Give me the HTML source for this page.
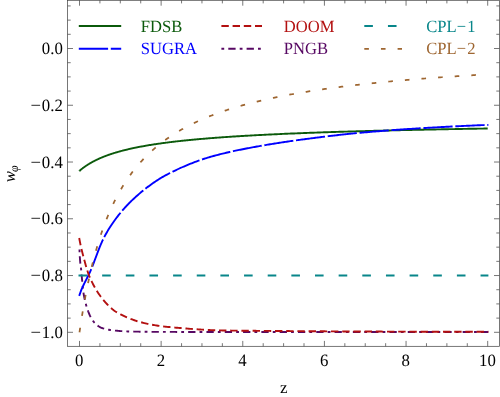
<!DOCTYPE html>
<html><head><meta charset="utf-8"><title>w_phi(z)</title>
<style>
html,body{margin:0;padding:0;background:#fff}
svg{display:block}
text{font-family:"Liberation Serif","Times New Roman",serif;font-size:16.8px;fill:#000;text-rendering:geometricPrecision}
.c{fill:none;stroke-width:1.9}
.f{stroke:#3c3c3c;stroke-width:0.7;fill:none}
</style></head><body>
<svg width="500" height="397" viewBox="0 0 500 397">
<rect width="500" height="397" fill="#fff"/>
<rect class="f" x="67.6" y="0.3" width="431.80" height="346.00"/>
<path class="f" d="M79.50,346.3 v-5.4 M79.50,0.3 v5.4 M99.91,346.3 v-3.1 M99.91,0.3 v3.1 M120.32,346.3 v-3.1 M120.32,0.3 v3.1 M140.73,346.3 v-3.1 M140.73,0.3 v3.1 M161.14,346.3 v-5.4 M161.14,0.3 v5.4 M181.55,346.3 v-3.1 M181.55,0.3 v3.1 M201.96,346.3 v-3.1 M201.96,0.3 v3.1 M222.37,346.3 v-3.1 M222.37,0.3 v3.1 M242.78,346.3 v-5.4 M242.78,0.3 v5.4 M263.19,346.3 v-3.1 M263.19,0.3 v3.1 M283.60,346.3 v-3.1 M283.60,0.3 v3.1 M304.01,346.3 v-3.1 M304.01,0.3 v3.1 M324.42,346.3 v-5.4 M324.42,0.3 v5.4 M344.83,346.3 v-3.1 M344.83,0.3 v3.1 M365.24,346.3 v-3.1 M365.24,0.3 v3.1 M385.65,346.3 v-3.1 M385.65,0.3 v3.1 M406.06,346.3 v-5.4 M406.06,0.3 v5.4 M426.47,346.3 v-3.1 M426.47,0.3 v3.1 M446.88,346.3 v-3.1 M446.88,0.3 v3.1 M467.29,346.3 v-3.1 M467.29,0.3 v3.1 M487.70,346.3 v-5.4 M487.70,0.3 v5.4 M67.6,332.30 h5.4 M499.4,332.30 h-5.4 M67.6,318.11 h3.1 M499.4,318.11 h-3.1 M67.6,303.92 h3.1 M499.4,303.92 h-3.1 M67.6,289.73 h3.1 M499.4,289.73 h-3.1 M67.6,275.54 h5.4 M499.4,275.54 h-5.4 M67.6,261.35 h3.1 M499.4,261.35 h-3.1 M67.6,247.16 h3.1 M499.4,247.16 h-3.1 M67.6,232.97 h3.1 M499.4,232.97 h-3.1 M67.6,218.78 h5.4 M499.4,218.78 h-5.4 M67.6,204.59 h3.1 M499.4,204.59 h-3.1 M67.6,190.40 h3.1 M499.4,190.40 h-3.1 M67.6,176.21 h3.1 M499.4,176.21 h-3.1 M67.6,162.02 h5.4 M499.4,162.02 h-5.4 M67.6,147.83 h3.1 M499.4,147.83 h-3.1 M67.6,133.64 h3.1 M499.4,133.64 h-3.1 M67.6,119.45 h3.1 M499.4,119.45 h-3.1 M67.6,105.26 h5.4 M499.4,105.26 h-5.4 M67.6,91.07 h3.1 M499.4,91.07 h-3.1 M67.6,76.88 h3.1 M499.4,76.88 h-3.1 M67.6,62.69 h3.1 M499.4,62.69 h-3.1 M67.6,48.50 h5.4 M499.4,48.50 h-5.4 M67.6,34.31 h3.1 M499.4,34.31 h-3.1 M67.6,20.12 h3.1 M499.4,20.12 h-3.1 M67.6,5.93 h3.1 M499.4,5.93 h-3.1"/>
<path class="c" stroke="#0b5a0b" d="M79.50,170.79 L79.50,170.79 L79.51,170.79 L79.51,170.78 L79.53,170.77 L79.54,170.76 L79.56,170.74 L79.58,170.72 L79.60,170.70 L79.63,170.68 L79.66,170.65 L79.70,170.62 L79.74,170.59 L79.78,170.56 L79.82,170.52 L79.87,170.48 L79.92,170.44 L79.97,170.39 L80.03,170.34 L80.09,170.29 L80.16,170.24 L80.22,170.18 L80.29,170.12 L80.37,170.06 L80.44,170.00 L80.52,169.93 L80.61,169.86 L80.70,169.79 L80.79,169.72 L80.88,169.64 L80.98,169.56 L81.08,169.48 L81.18,169.40 L81.29,169.31 L81.40,169.22 L81.51,169.13 L81.62,169.04 L81.74,168.95 L81.87,168.85 L81.99,168.75 L82.12,168.65 L82.26,168.55 L82.39,168.44 L82.53,168.34 L82.67,168.23 L82.82,168.12 L82.97,168.00 L83.12,167.89 L83.28,167.77 L83.44,167.66 L83.60,167.54 L83.76,167.42 L83.93,167.29 L84.10,167.17 L84.28,167.04 L84.46,166.91 L84.64,166.79 L84.83,166.66 L85.01,166.52 L85.21,166.39 L85.40,166.26 L85.60,166.12 L85.80,165.98 L86.01,165.84 L86.21,165.70 L86.43,165.56 L86.64,165.42 L86.86,165.28 L87.08,165.13 L87.30,164.99 L87.53,164.84 L87.76,164.70 L88.00,164.55 L88.24,164.40 L88.48,164.25 L88.72,164.10 L88.97,163.95 L89.22,163.80 L89.47,163.64 L89.73,163.49 L89.99,163.34 L90.26,163.18 L90.52,163.03 L90.79,162.87 L91.07,162.71 L91.34,162.56 L91.62,162.40 L91.91,162.24 L92.20,162.08 L92.49,161.93 L92.78,161.77 L93.08,161.61 L93.38,161.45 L93.68,161.29 L93.99,161.13 L94.30,160.97 L94.61,160.81 L94.92,160.65 L95.24,160.49 L95.57,160.32 L95.89,160.16 L96.22,160.00 L96.56,159.84 L96.89,159.68 L97.23,159.52 L97.57,159.36 L97.92,159.20 L98.27,159.03 L98.62,158.87 L98.98,158.71 L99.34,158.55 L99.70,158.39 L100.06,158.23 L100.43,158.07 L100.81,157.91 L101.18,157.75 L101.56,157.59 L101.94,157.43 L102.33,157.27 L102.71,157.11 L103.11,156.95 L103.50,156.79 L103.90,156.64 L104.30,156.48 L104.71,156.32 L105.11,156.16 L105.53,156.01 L105.94,155.85 L106.36,155.69 L106.78,155.54 L107.21,155.38 L107.63,155.23 L108.06,155.07 L108.50,154.92 L108.94,154.76 L109.38,154.61 L109.82,154.46 L110.27,154.31 L110.72,154.15 L111.17,154.00 L111.63,153.85 L112.09,153.70 L112.56,153.55 L113.02,153.40 L113.49,153.25 L113.97,153.11 L114.44,152.96 L114.92,152.81 L115.41,152.66 L115.90,152.52 L116.39,152.37 L116.88,152.23 L117.38,152.08 L117.88,151.94 L118.38,151.79 L118.89,151.65 L119.40,151.51 L119.91,151.37 L120.42,151.23 L120.94,151.09 L121.47,150.95 L121.99,150.81 L122.52,150.67 L123.06,150.53 L123.59,150.39 L124.13,150.26 L124.67,150.12 L125.22,149.98 L125.77,149.85 L126.32,149.71 L126.88,149.58 L127.44,149.45 L128.00,149.31 L128.56,149.18 L129.13,149.05 L129.71,148.92 L130.28,148.79 L130.86,148.66 L131.44,148.53 L132.03,148.40 L132.61,148.28 L133.21,148.15 L133.80,148.02 L134.40,147.90 L135.00,147.77 L135.61,147.65 L136.21,147.52 L136.83,147.40 L137.44,147.28 L138.06,147.16 L138.68,147.03 L139.31,146.91 L139.93,146.79 L140.56,146.67 L141.20,146.55 L141.84,146.44 L142.48,146.32 L143.12,146.20 L143.77,146.08 L144.42,145.97 L145.07,145.85 L145.73,145.74 L146.39,145.62 L147.06,145.51 L147.72,145.40 L148.39,145.29 L149.07,145.17 L149.74,145.06 L150.42,144.95 L151.11,144.84 L151.80,144.73 L152.49,144.62 L153.18,144.52 L153.88,144.41 L154.58,144.30 L155.28,144.19 L155.99,144.09 L156.70,143.98 L157.41,143.88 L158.12,143.77 L158.84,143.67 L159.57,143.57 L160.29,143.46 L161.02,143.36 L161.76,143.26 L162.49,143.16 L163.23,143.06 L163.97,142.96 L164.72,142.86 L165.47,142.76 L166.22,142.66 L166.98,142.57 L167.74,142.47 L168.50,142.37 L169.26,142.28 L170.03,142.18 L170.81,142.09 L171.58,141.99 L172.36,141.90 L173.14,141.80 L173.93,141.71 L174.72,141.62 L175.51,141.53 L176.30,141.43 L177.10,141.34 L177.90,141.25 L178.71,141.16 L179.52,141.07 L180.33,140.98 L181.14,140.90 L181.96,140.81 L182.78,140.72 L183.61,140.63 L184.43,140.55 L185.26,140.46 L186.10,140.38 L186.94,140.29 L187.78,140.21 L188.62,140.12 L189.47,140.04 L190.32,139.95 L191.17,139.87 L192.03,139.79 L192.89,139.71 L193.76,139.63 L194.62,139.54 L195.49,139.46 L196.37,139.38 L197.24,139.30 L198.13,139.22 L199.01,139.15 L199.90,139.07 L200.79,138.99 L201.68,138.91 L202.58,138.83 L203.48,138.76 L204.38,138.68 L205.29,138.61 L206.20,138.53 L207.11,138.46 L208.03,138.38 L208.94,138.31 L209.87,138.23 L210.79,138.16 L211.72,138.09 L212.66,138.01 L213.59,137.94 L214.53,137.87 L215.47,137.80 L216.42,137.73 L217.37,137.66 L218.32,137.59 L219.28,137.52 L220.24,137.45 L221.20,137.38 L222.16,137.31 L223.13,137.24 L224.11,137.17 L225.08,137.10 L226.06,137.04 L227.04,136.97 L228.03,136.90 L229.02,136.84 L230.01,136.77 L231.00,136.70 L232.00,136.64 L233.00,136.57 L234.01,136.51 L235.02,136.44 L236.03,136.38 L237.04,136.32 L238.06,136.25 L239.08,136.19 L240.11,136.13 L241.13,136.07 L242.16,136.00 L243.20,135.94 L244.24,135.88 L245.28,135.82 L246.32,135.76 L247.37,135.70 L248.42,135.64 L249.47,135.58 L250.53,135.52 L251.59,135.46 L252.66,135.40 L253.72,135.34 L254.79,135.29 L255.87,135.23 L256.94,135.17 L258.03,135.11 L259.11,135.06 L260.20,135.00 L261.29,134.94 L262.38,134.89 L263.48,134.83 L264.58,134.78 L265.68,134.72 L266.79,134.67 L267.90,134.61 L269.01,134.56 L270.13,134.50 L271.25,134.45 L272.37,134.39 L273.49,134.34 L274.62,134.29 L275.76,134.24 L276.89,134.18 L278.03,134.13 L279.17,134.08 L280.32,134.03 L281.47,133.98 L282.62,133.92 L283.78,133.87 L284.94,133.82 L286.10,133.77 L287.26,133.72 L288.43,133.67 L289.61,133.62 L290.78,133.57 L291.96,133.52 L293.14,133.47 L294.33,133.43 L295.52,133.38 L296.71,133.33 L297.90,133.28 L299.10,133.23 L300.30,133.19 L301.51,133.14 L302.72,133.09 L303.93,133.04 L305.14,133.00 L306.36,132.95 L307.58,132.91 L308.81,132.86 L310.03,132.81 L311.26,132.77 L312.50,132.72 L313.74,132.68 L314.98,132.63 L316.22,132.59 L317.47,132.54 L318.72,132.50 L319.97,132.46 L321.23,132.41 L322.49,132.37 L323.76,132.32 L325.02,132.28 L326.29,132.24 L327.57,132.20 L328.85,132.15 L330.13,132.11 L331.41,132.07 L332.70,132.03 L333.99,131.99 L335.28,131.94 L336.58,131.90 L337.88,131.86 L339.18,131.82 L340.49,131.78 L341.80,131.74 L343.11,131.70 L344.43,131.66 L345.75,131.62 L347.07,131.58 L348.39,131.54 L349.72,131.50 L351.06,131.46 L352.39,131.42 L353.73,131.38 L355.07,131.34 L356.42,131.30 L357.77,131.27 L359.12,131.23 L360.48,131.19 L361.84,131.15 L363.20,131.11 L364.57,131.08 L365.93,131.04 L367.31,131.00 L368.68,130.97 L370.06,130.93 L371.44,130.89 L372.83,130.86 L374.22,130.82 L375.61,130.78 L377.00,130.75 L378.40,130.71 L379.80,130.68 L381.21,130.64 L382.62,130.60 L384.03,130.57 L385.44,130.53 L386.86,130.50 L388.28,130.46 L389.71,130.43 L391.13,130.40 L392.57,130.36 L394.00,130.33 L395.44,130.29 L396.88,130.26 L398.32,130.23 L399.77,130.19 L401.22,130.16 L402.68,130.13 L404.13,130.09 L405.59,130.06 L407.06,130.03 L408.52,129.99 L409.99,129.96 L411.47,129.93 L412.95,129.90 L414.43,129.87 L415.91,129.83 L417.40,129.80 L418.89,129.77 L420.38,129.74 L421.88,129.71 L423.38,129.68 L424.88,129.64 L426.39,129.61 L427.90,129.58 L429.41,129.55 L430.93,129.52 L432.45,129.49 L433.97,129.46 L435.49,129.43 L437.02,129.40 L438.56,129.37 L440.09,129.34 L441.63,129.31 L443.18,129.28 L444.72,129.25 L446.27,129.22 L447.82,129.19 L449.38,129.16 L450.94,129.13 L452.50,129.11 L454.07,129.08 L455.63,129.05 L457.21,129.02 L458.78,128.99 L460.36,128.96 L461.94,128.94 L463.53,128.91 L465.12,128.88 L466.71,128.85 L468.30,128.82 L469.90,128.80 L471.50,128.77 L473.11,128.74 L474.72,128.71 L476.33,128.69 L477.94,128.66 L479.56,128.63 L481.18,128.61 L482.81,128.58 L484.43,128.55 L486.07,128.53 L487.70,128.50"/>
<path class="c" stroke="#570863" stroke-dasharray="2.8 4.1 7.3 4.1" d="M79.50,249.40 L79.52,250.59 L79.55,251.77 L79.59,252.95 L79.64,254.13 L79.71,255.32 L79.78,256.50 L79.87,257.68 L79.96,258.85 L80.05,260.03 L80.15,261.21 L80.25,262.38 L80.35,263.56 L80.50,264.73 L80.67,265.90 L80.84,267.07 L80.99,268.25 L81.12,269.42 L81.23,270.60 L81.34,271.77 L81.44,272.95 L81.54,274.13 L81.64,275.31 L81.75,276.49 L81.86,277.66 L81.98,278.84 L82.09,280.02 L82.20,281.20 L82.31,282.38 L82.43,283.56 L82.54,284.73 L82.66,285.91 L82.78,287.09 L82.91,288.26 L83.05,289.44 L83.19,290.61 L83.34,291.78 L83.50,292.95 L83.68,294.11 L83.87,295.28 L84.09,296.44 L84.32,297.60 L84.56,298.76 L84.83,299.92 L85.10,301.07 L85.39,302.22 L85.68,303.36 L85.98,304.50 L86.30,305.64 L86.63,306.78 L86.98,307.91 L87.35,309.04 L87.74,310.16 L88.14,311.27 L88.57,312.37 L89.01,313.46 L89.47,314.55 L89.96,315.65 L90.48,316.75 L91.02,317.81 L91.61,318.85 L92.23,319.83 L92.89,320.75 L93.61,321.66 L94.40,322.57 L95.24,323.46 L96.13,324.32 L97.05,325.12 L98.01,325.86 L98.98,326.52 L99.97,327.09 L100.99,327.56 L102.06,328.00 L103.18,328.40 L104.33,328.77 L105.50,329.09 L106.67,329.37 L107.83,329.61 L108.99,329.81 L110.16,329.99 L111.33,330.16 L112.51,330.31 L113.69,330.44 L114.86,330.56 L116.04,330.67 L117.22,330.78 L118.39,330.88 L119.57,330.98 L120.75,331.08 L121.93,331.16 L123.11,331.24 L124.29,331.30 L125.47,331.36 L126.66,331.40 L127.84,331.43 L129.02,331.46 L130.20,331.49 L131.38,331.52 L132.56,331.55 L133.74,331.58 L134.92,331.60 L136.10,331.63 L137.29,331.65 L138.47,331.67 L139.65,331.70 L140.83,331.72 L142.02,331.74 L143.20,331.76 L144.38,331.77 L145.56,331.79 L146.75,331.81 L147.93,331.82 L149.11,331.83 L150.29,331.84 L151.48,331.86 L152.66,331.87 L153.84,331.87 L155.02,331.88 L156.21,331.89 L157.39,331.89 L158.57,331.90 L159.75,331.90 L160.93,331.90 L162.12,331.90 L163.30,331.91 L164.48,331.91 L165.66,331.91 L166.85,331.91 L168.03,331.91 L169.21,331.91 L170.39,331.92 L171.57,331.92 L172.76,331.92 L173.94,331.92 L175.12,331.92 L176.30,331.93 L177.48,331.93 L178.67,331.93 L179.85,331.93 L181.03,331.93 L182.21,331.93 L183.40,331.93 L184.58,331.94 L185.76,331.94 L186.94,331.94 L188.12,331.94 L189.31,331.94 L190.49,331.94 L191.67,331.94 L192.85,331.95 L194.03,331.95 L195.22,331.95 L196.40,331.95 L197.58,331.95 L198.76,331.95 L199.95,331.95 L201.13,331.96 L202.31,331.96 L203.49,331.96 L204.67,331.96 L205.86,331.96 L207.04,331.96 L208.22,331.96 L209.40,331.96 L210.59,331.96 L211.77,331.97 L212.95,331.97 L214.13,331.97 L215.31,331.97 L216.50,331.97 L217.68,331.97 L218.86,331.97 L220.04,331.97 L221.22,331.97 L222.41,331.97 L223.59,331.97 L224.77,331.98 L225.95,331.98 L227.14,331.98 L228.32,331.98 L229.50,331.98 L230.68,331.98 L231.86,331.98 L233.05,331.98 L234.23,331.98 L235.41,331.98 L236.59,331.98 L237.78,331.98 L238.96,331.98 L240.14,331.99 L241.32,331.99 L242.50,331.99 L243.69,331.99 L244.87,331.99 L246.05,331.99 L247.23,331.99 L248.42,331.99 L249.60,331.99 L250.78,331.99 L251.96,331.99 L253.14,331.99 L254.33,331.99 L255.51,331.99 L256.69,331.99 L257.87,331.99 L259.06,331.99 L260.24,331.99 L261.42,331.99 L262.60,331.99 L263.78,332.00 L264.97,332.00 L266.15,332.00 L267.33,332.00 L268.51,332.00 L269.70,332.00 L270.88,332.00 L272.06,332.00 L273.24,332.00 L274.42,332.00 L275.61,332.00 L276.79,332.00 L277.97,332.00 L279.15,332.00 L280.34,332.00 L281.52,332.00 L282.70,332.00 L283.88,332.00 L285.06,332.00 L286.25,332.00 L287.43,332.00 L288.61,332.00 L289.79,332.00 L290.98,332.00 L292.16,332.00 L293.34,332.00 L294.52,332.00 L295.70,332.00 L296.89,332.00 L298.07,332.00 L299.25,332.00 L300.43,332.00 L301.61,332.00 L302.80,332.00 L303.98,332.00 L305.16,332.00 L306.34,332.00 L307.53,332.00 L308.71,332.00 L309.89,332.00 L311.07,332.00 L312.25,332.00 L313.44,332.00 L314.62,332.00 L315.80,332.00 L316.98,332.00 L318.17,332.00 L319.35,332.00 L320.53,332.00 L321.71,332.00 L322.89,332.00 L324.08,332.00 L325.26,332.00 L326.44,332.00 L327.62,332.00 L328.81,332.00 L329.99,332.00 L331.17,332.00 L332.35,332.00 L333.53,332.00 L334.72,332.00 L335.90,332.00 L337.08,332.00 L338.26,332.00 L339.44,332.00 L340.63,332.00 L341.81,332.00 L342.99,332.00 L344.17,332.00 L345.36,332.00 L346.54,332.00 L347.72,332.00 L348.90,332.00 L350.08,332.00 L351.27,332.00 L352.45,332.00 L353.63,332.00 L354.81,332.00 L356.00,332.00 L357.18,332.00 L358.36,332.00 L359.54,332.00 L360.72,332.00 L361.91,332.00 L363.09,332.00 L364.27,332.00 L365.45,332.00 L366.63,332.00 L367.82,332.00 L369.00,332.00 L370.18,332.00 L371.36,332.00 L372.55,332.00 L373.73,332.00 L374.91,332.00 L376.09,332.00 L377.27,332.00 L378.46,332.00 L379.64,332.00 L380.82,332.00 L382.00,332.00 L383.19,332.00 L384.37,332.00 L385.55,332.00 L386.73,332.00 L387.91,332.00 L389.10,332.00 L390.28,332.00 L391.46,332.00 L392.64,332.00 L393.83,332.00 L395.01,332.00 L396.19,332.00 L397.37,332.00 L398.55,332.00 L399.74,332.00 L400.92,332.00 L402.10,332.00 L403.28,332.00 L404.46,332.00 L405.65,332.00 L406.83,332.00 L408.01,332.00 L409.19,332.00 L410.38,332.00 L411.56,332.00 L412.74,332.00 L413.92,332.00 L415.10,332.00 L416.29,332.00 L417.47,332.00 L418.65,332.00 L419.83,332.00 L421.02,332.00 L422.20,332.00 L423.38,332.00 L424.56,332.00 L425.74,332.00 L426.93,332.00 L428.11,332.00 L429.29,332.00 L430.47,332.00 L431.66,332.00 L432.84,332.00 L434.02,332.00 L435.20,332.00 L436.38,332.00 L437.57,332.00 L438.75,332.00 L439.93,332.00 L441.11,332.00 L442.29,332.00 L443.48,332.00 L444.66,332.00 L445.84,332.00 L447.02,332.00 L448.21,332.00 L449.39,332.00 L450.57,332.00 L451.75,332.00 L452.93,332.00 L454.12,332.00 L455.30,332.00 L456.48,332.00 L457.66,332.00 L458.85,332.00 L460.03,332.00 L461.21,332.00 L462.39,332.00 L463.57,332.00 L464.76,332.00 L465.94,332.00 L467.12,332.00 L468.30,332.00 L469.49,332.00 L470.67,332.00 L471.85,332.00 L473.03,332.00 L474.21,332.00 L475.40,332.00 L476.58,332.00 L477.76,332.00 L478.94,332.00 L480.12,332.00 L481.31,332.00 L482.49,332.00 L483.67,332.00 L484.85,332.00 L486.04,332.00 L487.22,332.00 L488.40,332.00"/>
<path class="c" stroke="#08868a" stroke-dasharray="8.6 15.05" d="M78.50,275.54 L488.4,275.54"/>
<path class="c" stroke="#0000ff" stroke-dasharray="29.3 2.7" d="M79.20,295.90 L79.58,294.75 L79.97,293.61 L80.37,292.47 L80.78,291.34 L81.21,290.22 L81.67,289.11 L82.14,288.00 L82.63,286.91 L83.14,285.82 L83.66,284.73 L84.20,283.65 L84.74,282.57 L85.29,281.50 L85.84,280.42 L86.39,279.35 L86.94,278.27 L87.49,277.20 L88.04,276.12 L88.57,275.04 L89.10,273.95 L89.61,272.86 L90.10,271.77 L90.59,270.66 L91.06,269.55 L91.53,268.44 L91.99,267.32 L92.44,266.20 L92.88,265.07 L93.32,263.95 L93.76,262.81 L94.19,261.68 L94.61,260.54 L95.04,259.41 L95.46,258.27 L95.89,257.13 L96.31,256.00 L96.73,254.86 L97.15,253.72 L97.58,252.59 L98.01,251.46 L98.44,250.33 L98.88,249.20 L99.32,248.08 L99.77,246.96 L100.23,245.85 L100.69,244.74 L101.16,243.64 L101.64,242.54 L102.13,241.45 L102.64,240.37 L103.15,239.30 L103.67,238.23 L104.21,237.17 L104.76,236.12 L105.33,235.07 L105.91,234.02 L106.50,232.97 L107.10,231.93 L107.71,230.89 L108.33,229.85 L108.97,228.82 L109.61,227.79 L110.27,226.77 L110.93,225.75 L111.61,224.73 L112.29,223.72 L112.98,222.72 L113.68,221.72 L114.38,220.73 L115.10,219.75 L115.81,218.77 L116.54,217.80 L117.27,216.84 L118.01,215.89 L118.75,214.94 L119.49,214.01 L120.24,213.08 L121.00,212.16 L121.76,211.25 L122.53,210.34 L123.32,209.44 L124.11,208.54 L124.92,207.65 L125.73,206.76 L126.56,205.88 L127.39,205.00 L128.23,204.13 L129.08,203.26 L129.94,202.40 L130.80,201.54 L131.67,200.69 L132.55,199.85 L133.44,199.02 L134.33,198.19 L135.22,197.37 L136.12,196.55 L137.03,195.74 L137.94,194.94 L138.85,194.15 L139.77,193.37 L140.69,192.59 L141.61,191.82 L142.54,191.06 L143.46,190.31 L144.39,189.57 L145.33,188.82 L146.28,188.08 L147.23,187.35 L148.20,186.62 L149.17,185.89 L150.14,185.17 L151.12,184.46 L152.11,183.75 L153.11,183.05 L154.11,182.36 L155.11,181.68 L156.12,181.00 L157.14,180.34 L158.16,179.68 L159.18,179.04 L160.21,178.40 L161.24,177.78 L162.28,177.17 L163.32,176.57 L164.36,175.99 L165.41,175.42 L166.46,174.86 L167.51,174.31 L168.57,173.76 L169.63,173.21 L170.70,172.67 L171.77,172.14 L172.85,171.60 L173.93,171.07 L175.01,170.55 L176.10,170.03 L177.20,169.51 L178.29,169.00 L179.39,168.49 L180.50,167.99 L181.60,167.50 L182.71,167.00 L183.83,166.52 L184.94,166.04 L186.06,165.56 L187.18,165.09 L188.31,164.63 L189.43,164.17 L190.56,163.71 L191.69,163.27 L192.83,162.83 L193.96,162.39 L195.10,161.96 L196.23,161.54 L197.37,161.12 L198.51,160.71 L199.65,160.31 L200.80,159.92 L201.94,159.53 L203.08,159.15 L204.23,158.77 L205.37,158.41 L206.51,158.05 L207.66,157.70 L208.80,157.35 L209.95,157.01 L211.09,156.68 L212.24,156.36 L213.39,156.04 L214.55,155.72 L215.70,155.41 L216.86,155.10 L218.02,154.80 L219.18,154.50 L220.35,154.20 L221.51,153.91 L222.68,153.62 L223.85,153.34 L225.02,153.06 L226.20,152.78 L227.37,152.51 L228.55,152.24 L229.73,151.97 L230.91,151.70 L232.09,151.44 L233.27,151.19 L234.45,150.93 L235.63,150.68 L236.82,150.43 L238.00,150.18 L239.19,149.94 L240.37,149.70 L241.56,149.46 L242.75,149.22 L243.94,148.99 L245.13,148.76 L246.31,148.53 L247.50,148.30 L248.69,148.07 L249.88,147.85 L251.07,147.63 L252.26,147.41 L253.44,147.19 L254.63,146.97 L255.82,146.75 L257.00,146.54 L258.19,146.32 L259.37,146.11 L260.56,145.90 L261.74,145.69 L262.93,145.48 L264.12,145.28 L265.30,145.07 L266.49,144.87 L267.68,144.67 L268.86,144.47 L270.05,144.28 L271.24,144.08 L272.43,143.89 L273.62,143.70 L274.81,143.51 L276.00,143.32 L277.19,143.13 L278.38,142.95 L279.57,142.76 L280.77,142.58 L281.96,142.40 L283.15,142.22 L284.34,142.04 L285.54,141.87 L286.73,141.69 L287.92,141.52 L289.12,141.34 L290.31,141.17 L291.50,141.00 L292.70,140.83 L293.89,140.67 L295.09,140.50 L296.28,140.33 L297.48,140.17 L298.67,140.00 L299.87,139.84 L301.06,139.68 L302.26,139.52 L303.45,139.36 L304.64,139.20 L305.84,139.04 L307.03,138.89 L308.23,138.73 L309.42,138.57 L310.62,138.42 L311.81,138.27 L313.01,138.11 L314.20,137.96 L315.40,137.81 L316.59,137.65 L317.79,137.50 L318.98,137.35 L320.18,137.20 L321.38,137.05 L322.57,136.90 L323.77,136.75 L324.96,136.61 L326.16,136.46 L327.36,136.32 L328.55,136.17 L329.75,136.03 L330.95,135.88 L332.15,135.74 L333.34,135.60 L334.54,135.46 L335.74,135.32 L336.94,135.19 L338.13,135.05 L339.33,134.92 L340.53,134.78 L341.73,134.65 L342.93,134.52 L344.12,134.39 L345.32,134.26 L346.52,134.13 L347.72,134.00 L348.92,133.88 L350.12,133.76 L351.32,133.63 L352.51,133.51 L353.71,133.40 L354.91,133.28 L356.11,133.16 L357.31,133.05 L358.51,132.94 L359.71,132.83 L360.91,132.72 L362.11,132.61 L363.31,132.50 L364.51,132.40 L365.71,132.29 L366.91,132.18 L368.11,132.08 L369.31,131.98 L370.51,131.87 L371.71,131.77 L372.91,131.67 L374.11,131.57 L375.31,131.47 L376.51,131.37 L377.72,131.27 L378.92,131.18 L380.12,131.08 L381.32,130.99 L382.52,130.89 L383.72,130.80 L384.92,130.70 L386.13,130.61 L387.33,130.52 L388.53,130.43 L389.73,130.34 L390.93,130.25 L392.14,130.16 L393.34,130.07 L394.54,129.98 L395.74,129.90 L396.95,129.81 L398.15,129.73 L399.35,129.64 L400.55,129.56 L401.76,129.47 L402.96,129.39 L404.16,129.31 L405.36,129.23 L406.57,129.15 L407.77,129.07 L408.97,128.99 L410.17,128.91 L411.38,128.84 L412.58,128.76 L413.78,128.68 L414.98,128.61 L416.19,128.53 L417.39,128.46 L418.59,128.39 L419.79,128.31 L421.00,128.24 L422.20,128.17 L423.40,128.10 L424.61,128.03 L425.81,127.95 L427.01,127.88 L428.21,127.81 L429.42,127.74 L430.62,127.67 L431.82,127.61 L433.03,127.54 L434.23,127.47 L435.43,127.40 L436.63,127.33 L437.84,127.27 L439.04,127.20 L440.24,127.13 L441.45,127.07 L442.65,127.00 L443.85,126.94 L445.06,126.87 L446.26,126.81 L447.46,126.74 L448.67,126.68 L449.87,126.62 L451.07,126.56 L452.28,126.49 L453.48,126.43 L454.69,126.37 L455.89,126.31 L457.09,126.25 L458.30,126.19 L459.50,126.13 L460.70,126.08 L461.91,126.02 L463.11,125.96 L464.32,125.90 L465.52,125.85 L466.72,125.79 L467.93,125.74 L469.13,125.68 L470.33,125.63 L471.54,125.58 L472.74,125.52 L473.95,125.47 L475.15,125.42 L476.36,125.37 L477.56,125.32 L478.76,125.27 L479.97,125.22 L481.17,125.17 L482.38,125.13 L483.58,125.08 L484.79,125.03 L485.99,124.99 L487.20,124.94 L488.40,124.90"/>
<path class="c" stroke="#b31010" stroke-dasharray="7.4 3.8" d="M79.20,238.00 L79.41,239.13 L79.62,240.27 L79.83,241.40 L80.06,242.53 L80.29,243.66 L80.52,244.79 L80.77,245.91 L81.02,247.03 L81.28,248.16 L81.54,249.28 L81.81,250.40 L82.09,251.52 L82.37,252.64 L82.65,253.75 L82.94,254.87 L83.24,255.98 L83.53,257.10 L83.83,258.21 L84.13,259.32 L84.43,260.43 L84.74,261.55 L85.04,262.66 L85.34,263.78 L85.65,264.89 L85.96,266.00 L86.28,267.11 L86.61,268.22 L86.94,269.32 L87.29,270.42 L87.64,271.52 L88.00,272.61 L88.38,273.69 L88.77,274.77 L89.18,275.84 L89.62,276.91 L90.07,277.97 L90.54,279.03 L91.02,280.08 L91.52,281.12 L92.02,282.16 L92.54,283.19 L93.06,284.21 L93.60,285.22 L94.15,286.24 L94.71,287.25 L95.28,288.25 L95.87,289.25 L96.47,290.24 L97.08,291.23 L97.69,292.20 L98.32,293.17 L98.96,294.13 L99.62,295.07 L100.28,296.01 L100.95,296.93 L101.65,297.85 L102.36,298.76 L103.08,299.66 L103.82,300.55 L104.58,301.43 L105.35,302.30 L106.12,303.15 L106.91,303.99 L107.71,304.81 L108.52,305.62 L109.35,306.43 L110.19,307.23 L111.04,308.02 L111.91,308.79 L112.80,309.53 L113.71,310.25 L114.62,310.93 L115.56,311.57 L116.52,312.18 L117.51,312.76 L118.53,313.32 L119.55,313.86 L120.59,314.38 L121.63,314.89 L122.67,315.39 L123.71,315.89 L124.75,316.37 L125.81,316.85 L126.86,317.32 L127.92,317.77 L128.99,318.20 L130.06,318.62 L131.14,319.04 L132.21,319.45 L133.30,319.85 L134.38,320.24 L135.48,320.62 L136.57,320.99 L137.67,321.34 L138.77,321.66 L139.88,321.97 L140.99,322.25 L142.10,322.53 L143.22,322.81 L144.34,323.08 L145.46,323.34 L146.59,323.59 L147.71,323.84 L148.84,324.08 L149.98,324.31 L151.11,324.53 L152.25,324.75 L153.38,324.96 L154.52,325.16 L155.66,325.35 L156.80,325.54 L157.94,325.71 L159.07,325.87 L160.21,326.03 L161.35,326.18 L162.49,326.32 L163.64,326.45 L164.78,326.58 L165.92,326.71 L167.07,326.83 L168.22,326.95 L169.36,327.06 L170.51,327.17 L171.66,327.27 L172.81,327.38 L173.96,327.48 L175.11,327.58 L176.26,327.68 L177.41,327.78 L178.56,327.88 L179.70,327.97 L180.85,328.07 L182.00,328.17 L183.15,328.27 L184.30,328.36 L185.44,328.46 L186.59,328.55 L187.74,328.65 L188.89,328.74 L190.04,328.83 L191.19,328.91 L192.34,329.00 L193.49,329.08 L194.64,329.16 L195.79,329.24 L196.93,329.32 L198.08,329.39 L199.23,329.46 L200.38,329.52 L201.53,329.59 L202.68,329.65 L203.84,329.72 L204.99,329.78 L206.14,329.84 L207.29,329.91 L208.44,329.97 L209.59,330.02 L210.74,330.08 L211.89,330.13 L213.04,330.18 L214.19,330.23 L215.35,330.27 L216.50,330.31 L217.65,330.35 L218.80,330.38 L219.95,330.40 L221.10,330.42 L222.25,330.44 L223.41,330.46 L224.56,330.48 L225.71,330.50 L226.86,330.51 L228.01,330.53 L229.16,330.55 L230.32,330.57 L231.47,330.58 L232.62,330.60 L233.77,330.61 L234.92,330.63 L236.08,330.64 L237.23,330.65 L238.38,330.67 L239.53,330.68 L240.68,330.69 L241.84,330.70 L242.99,330.71 L244.14,330.73 L245.29,330.74 L246.45,330.75 L247.60,330.76 L248.75,330.77 L249.90,330.78 L251.05,330.79 L252.21,330.80 L253.36,330.81 L254.51,330.82 L255.66,330.82 L256.82,330.83 L257.97,330.84 L259.12,330.85 L260.27,330.86 L261.43,330.87 L262.58,330.88 L263.73,330.88 L264.88,330.89 L266.03,330.90 L267.19,330.91 L268.34,330.92 L269.49,330.92 L270.64,330.93 L271.80,330.94 L272.95,330.95 L274.10,330.96 L275.25,330.96 L276.40,330.97 L277.56,330.98 L278.71,330.99 L279.86,331.00 L281.01,331.01 L282.17,331.02 L283.32,331.03 L284.47,331.03 L285.62,331.04 L286.77,331.05 L287.93,331.06 L289.08,331.07 L290.23,331.08 L291.38,331.09 L292.53,331.10 L293.69,331.11 L294.84,331.11 L295.99,331.12 L297.14,331.13 L298.29,331.14 L299.45,331.15 L300.60,331.16 L301.75,331.17 L302.90,331.17 L304.06,331.18 L305.21,331.19 L306.36,331.20 L307.51,331.21 L308.66,331.22 L309.82,331.22 L310.97,331.23 L312.12,331.24 L313.27,331.25 L314.42,331.26 L315.58,331.26 L316.73,331.27 L317.88,331.28 L319.03,331.29 L320.19,331.29 L321.34,331.30 L322.49,331.31 L323.64,331.32 L324.79,331.32 L325.95,331.33 L327.10,331.34 L328.25,331.34 L329.40,331.35 L330.55,331.36 L331.71,331.37 L332.86,331.37 L334.01,331.38 L335.16,331.39 L336.32,331.39 L337.47,331.40 L338.62,331.40 L339.77,331.41 L340.92,331.42 L342.08,331.42 L343.23,331.43 L344.38,331.43 L345.53,331.44 L346.68,331.44 L347.84,331.45 L348.99,331.46 L350.14,331.46 L351.29,331.47 L352.45,331.47 L353.60,331.48 L354.75,331.48 L355.90,331.48 L357.05,331.49 L358.21,331.49 L359.36,331.50 L360.51,331.50 L361.66,331.51 L362.81,331.51 L363.97,331.51 L365.12,331.52 L366.27,331.52 L367.42,331.53 L368.58,331.53 L369.73,331.53 L370.88,331.54 L372.03,331.54 L373.18,331.55 L374.34,331.55 L375.49,331.55 L376.64,331.56 L377.79,331.56 L378.94,331.57 L380.10,331.57 L381.25,331.57 L382.40,331.58 L383.55,331.58 L384.71,331.59 L385.86,331.59 L387.01,331.59 L388.16,331.60 L389.31,331.60 L390.47,331.61 L391.62,331.61 L392.77,331.61 L393.92,331.62 L395.08,331.62 L396.23,331.62 L397.38,331.63 L398.53,331.63 L399.68,331.64 L400.84,331.64 L401.99,331.64 L403.14,331.65 L404.29,331.65 L405.44,331.65 L406.60,331.66 L407.75,331.66 L408.90,331.66 L410.05,331.67 L411.21,331.67 L412.36,331.67 L413.51,331.68 L414.66,331.68 L415.81,331.68 L416.97,331.69 L418.12,331.69 L419.27,331.69 L420.42,331.70 L421.57,331.70 L422.73,331.70 L423.88,331.71 L425.03,331.71 L426.18,331.71 L427.34,331.71 L428.49,331.72 L429.64,331.72 L430.79,331.72 L431.94,331.73 L433.10,331.73 L434.25,331.73 L435.40,331.73 L436.55,331.74 L437.70,331.74 L438.86,331.74 L440.01,331.74 L441.16,331.75 L442.31,331.75 L443.47,331.75 L444.62,331.75 L445.77,331.76 L446.92,331.76 L448.07,331.76 L449.23,331.76 L450.38,331.76 L451.53,331.77 L452.68,331.77 L453.84,331.77 L454.99,331.77 L456.14,331.77 L457.29,331.78 L458.44,331.78 L459.60,331.78 L460.75,331.78 L461.90,331.78 L463.05,331.78 L464.20,331.79 L465.36,331.79 L466.51,331.79 L467.66,331.79 L468.81,331.79 L469.97,331.79 L471.12,331.79 L472.27,331.79 L473.42,331.79 L474.57,331.79 L475.73,331.80 L476.88,331.80 L478.03,331.80 L479.18,331.80 L480.33,331.80 L481.49,331.80 L482.64,331.80 L483.79,331.80 L484.94,331.80 L486.10,331.80 L487.25,331.80 L488.40,331.80"/>
<path class="c" stroke="#9e6631" stroke-dasharray="4.6 12.05" style="stroke-width:1.75" d="M79.50,332.30 L79.50,332.29 L79.51,332.25 L79.51,332.20 L79.53,332.12 L79.54,332.02 L79.56,331.89 L79.58,331.74 L79.60,331.57 L79.63,331.38 L79.66,331.16 L79.70,330.93 L79.74,330.67 L79.78,330.39 L79.82,330.08 L79.87,329.76 L79.92,329.41 L79.97,329.04 L80.03,328.65 L80.09,328.24 L80.16,327.81 L80.22,327.36 L80.29,326.89 L80.37,326.40 L80.44,325.88 L80.52,325.35 L80.61,324.80 L80.70,324.23 L80.79,323.64 L80.88,323.03 L80.98,322.40 L81.08,321.75 L81.18,321.09 L81.29,320.41 L81.40,319.71 L81.51,318.99 L81.62,318.26 L81.74,317.51 L81.87,316.74 L81.99,315.96 L82.12,315.16 L82.26,314.35 L82.39,313.52 L82.53,312.68 L82.67,311.83 L82.82,310.96 L82.97,310.07 L83.12,309.17 L83.28,308.26 L83.44,307.34 L83.60,306.41 L83.76,305.46 L83.93,304.50 L84.10,303.53 L84.28,302.55 L84.46,301.56 L84.64,300.56 L84.83,299.54 L85.01,298.52 L85.21,297.49 L85.40,296.45 L85.60,295.40 L85.80,294.35 L86.01,293.28 L86.21,292.21 L86.43,291.13 L86.64,290.04 L86.86,288.95 L87.08,287.85 L87.30,286.75 L87.53,285.64 L87.76,284.52 L88.00,283.40 L88.24,282.27 L88.48,281.14 L88.72,280.00 L88.97,278.86 L89.22,277.72 L89.47,276.57 L89.73,275.42 L89.99,274.27 L90.26,273.12 L90.52,271.96 L90.79,270.80 L91.07,269.64 L91.34,268.47 L91.62,267.31 L91.91,266.14 L92.20,264.98 L92.49,263.81 L92.78,262.64 L93.08,261.47 L93.38,260.30 L93.68,259.14 L93.99,257.97 L94.30,256.80 L94.61,255.64 L94.92,254.47 L95.24,253.31 L95.57,252.14 L95.89,250.98 L96.22,249.82 L96.56,248.67 L96.89,247.51 L97.23,246.36 L97.57,245.21 L97.92,244.06 L98.27,242.91 L98.62,241.77 L98.98,240.63 L99.34,239.49 L99.70,238.36 L100.06,237.23 L100.43,236.10 L100.81,234.97 L101.18,233.85 L101.56,232.74 L101.94,231.63 L102.33,230.52 L102.71,229.41 L103.11,228.31 L103.50,227.22 L103.90,226.12 L104.30,225.04 L104.71,223.96 L105.11,222.88 L105.53,221.80 L105.94,220.74 L106.36,219.67 L106.78,218.61 L107.21,217.56 L107.63,216.51 L108.06,215.47 L108.50,214.43 L108.94,213.39 L109.38,212.36 L109.82,211.34 L110.27,210.32 L110.72,209.31 L111.17,208.30 L111.63,207.30 L112.09,206.30 L112.56,205.31 L113.02,204.33 L113.49,203.35 L113.97,202.37 L114.44,201.40 L114.92,200.44 L115.41,199.48 L115.90,198.53 L116.39,197.59 L116.88,196.64 L117.38,195.71 L117.88,194.78 L118.38,193.86 L118.89,192.94 L119.40,192.03 L119.91,191.12 L120.42,190.22 L120.94,189.32 L121.47,188.43 L121.99,187.55 L122.52,186.67 L123.06,185.80 L123.59,184.93 L124.13,184.07 L124.67,183.22 L125.22,182.37 L125.77,181.52 L126.32,180.68 L126.88,179.85 L127.44,179.02 L128.00,178.20 L128.56,177.38 L129.13,176.57 L129.71,175.77 L130.28,174.97 L130.86,174.18 L131.44,173.39 L132.03,172.60 L132.61,171.83 L133.21,171.05 L133.80,170.29 L134.40,169.53 L135.00,168.77 L135.61,168.02 L136.21,167.27 L136.83,166.53 L137.44,165.80 L138.06,165.07 L138.68,164.35 L139.31,163.63 L139.93,162.91 L140.56,162.20 L141.20,161.50 L141.84,160.80 L142.48,160.11 L143.12,159.42 L143.77,158.74 L144.42,158.06 L145.07,157.39 L145.73,156.72 L146.39,156.05 L147.06,155.39 L147.72,154.74 L148.39,154.09 L149.07,153.45 L149.74,152.81 L150.42,152.17 L151.11,151.54 L151.80,150.92 L152.49,150.29 L153.18,149.68 L153.88,149.07 L154.58,148.46 L155.28,147.86 L155.99,147.26 L156.70,146.66 L157.41,146.07 L158.12,145.49 L158.84,144.91 L159.57,144.33 L160.29,143.76 L161.02,143.19 L161.76,142.63 L162.49,142.07 L163.23,141.51 L163.97,140.96 L164.72,140.41 L165.47,139.87 L166.22,139.33 L166.98,138.80 L167.74,138.26 L168.50,137.74 L169.26,137.21 L170.03,136.70 L170.81,136.18 L171.58,135.67 L172.36,135.16 L173.14,134.66 L173.93,134.16 L174.72,133.66 L175.51,133.17 L176.30,132.68 L177.10,132.19 L177.90,131.71 L178.71,131.23 L179.52,130.76 L180.33,130.29 L181.14,129.82 L181.96,129.35 L182.78,128.89 L183.61,128.44 L184.43,127.98 L185.26,127.53 L186.10,127.08 L186.94,126.64 L187.78,126.20 L188.62,125.76 L189.47,125.33 L190.32,124.90 L191.17,124.47 L192.03,124.04 L192.89,123.62 L193.76,123.20 L194.62,122.79 L195.49,122.38 L196.37,121.97 L197.24,121.56 L198.13,121.16 L199.01,120.76 L199.90,120.36 L200.79,119.96 L201.68,119.57 L202.58,119.18 L203.48,118.80 L204.38,118.41 L205.29,118.03 L206.20,117.66 L207.11,117.28 L208.03,116.91 L208.94,116.54 L209.87,116.17 L210.79,115.81 L211.72,115.45 L212.66,115.09 L213.59,114.73 L214.53,114.38 L215.47,114.03 L216.42,113.68 L217.37,113.33 L218.32,112.99 L219.28,112.65 L220.24,112.31 L221.20,111.97 L222.16,111.64 L223.13,111.31 L224.11,110.98 L225.08,110.65 L226.06,110.32 L227.04,110.00 L228.03,109.68 L229.02,109.36 L230.01,109.05 L231.00,108.74 L232.00,108.42 L233.00,108.12 L234.01,107.81 L235.02,107.50 L236.03,107.20 L237.04,106.90 L238.06,106.60 L239.08,106.31 L240.11,106.01 L241.13,105.72 L242.16,105.43 L243.20,105.14 L244.24,104.86 L245.28,104.57 L246.32,104.29 L247.37,104.01 L248.42,103.73 L249.47,103.46 L250.53,103.18 L251.59,102.91 L252.66,102.64 L253.72,102.37 L254.79,102.10 L255.87,101.84 L256.94,101.58 L258.03,101.31 L259.11,101.06 L260.20,100.80 L261.29,100.54 L262.38,100.29 L263.48,100.03 L264.58,99.78 L265.68,99.53 L266.79,99.29 L267.90,99.04 L269.01,98.80 L270.13,98.55 L271.25,98.31 L272.37,98.07 L273.49,97.84 L274.62,97.60 L275.76,97.36 L276.89,97.13 L278.03,96.90 L279.17,96.67 L280.32,96.44 L281.47,96.22 L282.62,95.99 L283.78,95.77 L284.94,95.54 L286.10,95.32 L287.26,95.10 L288.43,94.88 L289.61,94.67 L290.78,94.45 L291.96,94.24 L293.14,94.03 L294.33,93.82 L295.52,93.61 L296.71,93.40 L297.90,93.19 L299.10,92.98 L300.30,92.78 L301.51,92.58 L302.72,92.38 L303.93,92.18 L305.14,91.98 L306.36,91.78 L307.58,91.58 L308.81,91.39 L310.03,91.19 L311.26,91.00 L312.50,90.81 L313.74,90.62 L314.98,90.43 L316.22,90.24 L317.47,90.05 L318.72,89.87 L319.97,89.68 L321.23,89.50 L322.49,89.32 L323.76,89.14 L325.02,88.96 L326.29,88.78 L327.57,88.60 L328.85,88.42 L330.13,88.25 L331.41,88.07 L332.70,87.90 L333.99,87.73 L335.28,87.56 L336.58,87.39 L337.88,87.22 L339.18,87.05 L340.49,86.88 L341.80,86.72 L343.11,86.55 L344.43,86.39 L345.75,86.23 L347.07,86.07 L348.39,85.90 L349.72,85.74 L351.06,85.59 L352.39,85.43 L353.73,85.27 L355.07,85.11 L356.42,84.96 L357.77,84.81 L359.12,84.65 L360.48,84.50 L361.84,84.35 L363.20,84.20 L364.57,84.05 L365.93,83.90 L367.31,83.75 L368.68,83.61 L370.06,83.46 L371.44,83.31 L372.83,83.17 L374.22,83.03 L375.61,82.88 L377.00,82.74 L378.40,82.60 L379.80,82.46 L381.21,82.32 L382.62,82.18 L384.03,82.05 L385.44,81.91 L386.86,81.77 L388.28,81.64 L389.71,81.50 L391.13,81.37 L392.57,81.24 L394.00,81.10 L395.44,80.97 L396.88,80.84 L398.32,80.71 L399.77,80.58 L401.22,80.45 L402.68,80.33 L404.13,80.20 L405.59,80.07 L407.06,79.95 L408.52,79.82 L409.99,79.70 L411.47,79.58 L412.95,79.45 L414.43,79.33 L415.91,79.21 L417.40,79.09 L418.89,78.97 L420.38,78.85 L421.88,78.73 L423.38,78.61 L424.88,78.50 L426.39,78.38 L427.90,78.26 L429.41,78.15 L430.93,78.03 L432.45,77.92 L433.97,77.81 L435.49,77.69 L437.02,77.58 L438.56,77.47 L440.09,77.36 L441.63,77.25 L443.18,77.14 L444.72,77.03 L446.27,76.92 L447.82,76.81 L449.38,76.71 L450.94,76.60 L452.50,76.49 L454.07,76.39 L455.63,76.28 L457.21,76.18 L458.78,76.08 L460.36,75.97 L461.94,75.87 L463.53,75.77 L465.12,75.67 L466.71,75.57 L468.30,75.46 L469.90,75.36 L471.50,75.27 L473.11,75.17 L474.72,75.07 L476.33,74.97 L477.94,74.87 L479.56,74.78 L481.18,74.68 L482.81,74.58 L484.43,74.49 L486.07,74.39 L487.70,74.30"/>
<path class="c" stroke="#0b5a0b" d="M78.8,26.0 L121.2,26.0"/>
<text transform="translate(140.8,31.6) scale(1,1.03)" style="fill:#0b5a0b;font-size:16.6px">FDSB</text>
<path class="c" stroke="#0000ff" stroke-dasharray="29.3 2.7" d="M78.8,48.7 L121.2,48.7"/>
<text transform="translate(140.8,53.75) scale(1,1.03)" style="fill:#0000ff;font-size:16.6px">SUGRA</text>
<path class="c" stroke="#b31010" stroke-dasharray="7.4 3.8" d="M221.4,26.0 L262,26.0"/>
<text transform="translate(283.7,31.6) scale(1,1.03)" style="fill:#b31010;font-size:16.6px">DOOM</text>
<path class="c" stroke="#570863" stroke-dasharray="2.8 4.1 7.3 4.1" d="M221.4,48.7 L261,48.7"/>
<text transform="translate(283.7,53.75) scale(1,1.03)" style="fill:#570863;font-size:16.6px">PNGB</text>
<path class="c" stroke="#08868a" stroke-dasharray="8.6 15.05" d="M364.3,26.0 L397,26.0"/>
<text transform="translate(426.3,31.6) scale(1,1.03)" style="fill:#08868a;font-size:16.6px">CPL−<tspan dx="1.1">1</tspan></text>
<path class="c" stroke="#9e6631" stroke-dasharray="4.6 12.05" style="stroke-width:1.75" d="M364.3,48.75 L402,48.75"/>
<text transform="translate(426.3,53.75) scale(1,1.03)" style="fill:#9e6631;font-size:16.6px">CPL−<tspan dx="1.1">2</tspan></text>
<text transform="translate(62.85,54.10) scale(1,1.03)" text-anchor="end">0.0</text>
<text transform="translate(62.85,110.86) scale(1,1.03)" text-anchor="end"><tspan textLength="10.55" lengthAdjust="spacingAndGlyphs">−</tspan><tspan dx="0.9">0.2</tspan></text>
<text transform="translate(62.85,167.62) scale(1,1.03)" text-anchor="end"><tspan textLength="10.55" lengthAdjust="spacingAndGlyphs">−</tspan><tspan dx="0.9">0.4</tspan></text>
<text transform="translate(62.85,224.38) scale(1,1.03)" text-anchor="end"><tspan textLength="10.55" lengthAdjust="spacingAndGlyphs">−</tspan><tspan dx="0.9">0.6</tspan></text>
<text transform="translate(62.85,281.14) scale(1,1.03)" text-anchor="end"><tspan textLength="10.55" lengthAdjust="spacingAndGlyphs">−</tspan><tspan dx="0.9">0.8</tspan></text>
<text transform="translate(62.85,337.90) scale(1,1.03)" text-anchor="end"><tspan textLength="10.55" lengthAdjust="spacingAndGlyphs">−</tspan><tspan dx="0.9">1.0</tspan></text>
<text transform="translate(79.20,365.55) scale(1,1.03)" text-anchor="middle">0</text>
<text transform="translate(160.84,365.55) scale(1,1.03)" text-anchor="middle">2</text>
<text transform="translate(242.48,365.55) scale(1,1.03)" text-anchor="middle">4</text>
<text transform="translate(324.12,365.55) scale(1,1.03)" text-anchor="middle">6</text>
<text transform="translate(405.76,365.55) scale(1,1.03)" text-anchor="middle">8</text>
<text transform="translate(487.40,365.55) scale(1,1.03)" text-anchor="middle">10</text>
<text x="283.8" y="392.6" text-anchor="middle" style="font-size:17px">z</text>
<text transform="translate(14.7,182.2) rotate(-90)" style="font-style:italic">w<tspan dx="-0.9" dy="2.8" style="font-size:12px">φ</tspan></text>
</svg></body></html>
